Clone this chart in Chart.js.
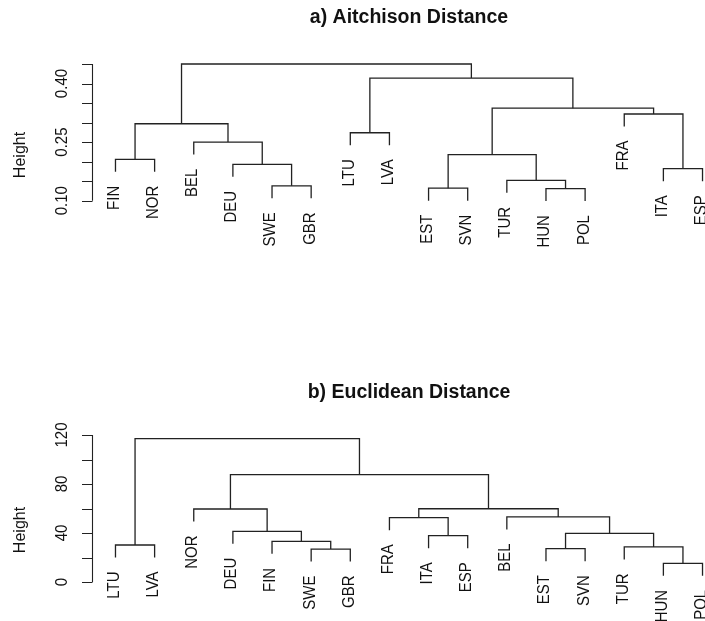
<!DOCTYPE html>
<html lang="en">
<head>
<meta charset="UTF-8">
<title>Cluster dendrograms</title>
<script src="https://cdn.jsdelivr.net/npm/chart.js"></script>
<style>
  html, body { margin: 0; padding: 0; background: #fff; overflow: hidden; }
  #wrap { position: relative; width: 705px; height: 621px; overflow: hidden; }
  canvas { position: absolute; left: 0; }
  #aitchisonChart { top: 0; }
  #euclideanChart { top: 310px; }
</style>
</head>
<body>
<div id="wrap">
  <canvas id="aitchisonChart" width="740" height="310"></canvas>
  <canvas id="euclideanChart" width="740" height="311"></canvas>
</div>
<script>
// a) Aitchison distance tree
// merge steps: a name is a leaf, a number points at an earlier step (1-based)
const aitchisonLeaves = ['FIN', 'NOR', 'BEL', 'DEU', 'SWE', 'GBR', 'LTU', 'LVA', 'EST', 'SVN', 'TUR', 'HUN', 'POL', 'FRA', 'ITA', 'ESP'];
const aitchisonMerges = [
  ['HUN', 'POL'], ['EST', 'SVN'], ['SWE', 'GBR'], ['TUR', 1], ['ITA', 'ESP'],
  ['DEU', 3], ['FIN', 'NOR'], [2, 4], ['BEL', 6], ['LTU', 'LVA'],
  [7, 9], ['FRA', 5], [8, 12], [10, 13], [11, 14]
];
const aitchisonHeights = [0.131, 0.132, 0.138, 0.152, 0.182, 0.193, 0.206, 0.218, 0.250, 0.274, 0.297, 0.322, 0.337, 0.414, 0.450];
const aitchisonTicks = [0.10, 0.15, 0.20, 0.25, 0.30, 0.35, 0.40, 0.45];
const aitchisonTickLabels = ['0.10', '', '', '0.25', '', '', '0.40', ''];

// b) Euclidean distance tree
const euclideanLeaves = ['LTU', 'LVA', 'NOR', 'DEU', 'FIN', 'SWE', 'GBR', 'FRA', 'ITA', 'ESP', 'BEL', 'EST', 'SVN', 'TUR', 'HUN', 'POL'];
const euclideanMerges = [
  ['HUN', 'POL'], ['SWE', 'GBR'], ['EST', 'SVN'], ['TUR', 1], ['LTU', 'LVA'],
  ['FIN', 2], ['ITA', 'ESP'], [3, 4], ['DEU', 6], ['FRA', 7],
  ['BEL', 8], ['NOR', 9], [10, 11], [12, 13], [5, 14]
];
const euclideanHeights = [15.2, 26.9, 27.2, 28.6, 30.2, 33.2, 37.8, 39.7, 41.4, 52.5, 53.1, 59.6, 59.8, 87.6, 117.0];
const euclideanTicks = [0, 20, 40, 60, 80, 100, 120];
const euclideanTickLabels = ['0', '', '40', '', '80', '', '120'];

const HANG = 0.1;
const ink = '#222';
const FONT = '"Liberation Sans", Arial, Helvetica, sans-serif';

// turn the merge list into elbow segments; leaves hang below their merge
function buildTree(leaves, merges, heights) {
  const hang = HANG * (Math.max(...heights) - Math.min(...heights));
  const nodes = [];
  const leafEnds = {};
  const segments = [];
  function child(ref, h) {
    if (typeof ref === 'string') {
      leafEnds[ref] = h - hang;
      return { x: leaves.indexOf(ref) + 1, y: h - hang };
    }
    return nodes[ref - 1];
  }
  merges.forEach((pair, i) => {
    const h = heights[i];
    const l = child(pair[0], h);
    const r = child(pair[1], h);
    segments.push([{ x: l.x, y: l.y }, { x: l.x, y: h }, { x: r.x, y: h }, { x: r.x, y: r.y }]);
    nodes.push({ x: (l.x + r.x) / 2, y: h });
  });
  return { segments, leafEnds };
}

// draw a string turned 90deg, reading bottom to top
function upText(ctx, text, x, y) {
  ctx.save();
  ctx.translate(x, y);
  ctx.rotate(-Math.PI / 2);
  ctx.scale(1, 1.06);
  ctx.fillText(text, 0, 0);
  ctx.restore();
}

// y axis (R style) plus the rotated leaf labels
const dendroText = {
  id: 'dendroText',
  afterDatasetsDraw(chart, args, opts) {
    const ctx = chart.ctx;
    const xs = chart.scales.x, ys = chart.scales.y;
    const axisX = chart.chartArea.left;
    ctx.save();
    ctx.strokeStyle = ink;
    ctx.fillStyle = '#111';
    ctx.lineWidth = 1.1;

    const yTop = ys.getPixelForValue(opts.ticks[opts.ticks.length - 1]);
    const yBot = ys.getPixelForValue(opts.ticks[0]);
    ctx.beginPath();
    ctx.moveTo(axisX + 0.5, yTop);
    ctx.lineTo(axisX + 0.5, yBot);
    opts.ticks.forEach(v => {
      const py = Math.round(ys.getPixelForValue(v)) + 0.5;
      ctx.moveTo(axisX + 0.5, py);
      ctx.lineTo(axisX - 10, py);
    });
    ctx.stroke();

    ctx.font = '15px ' + FONT;
    ctx.textAlign = 'center';
    ctx.textBaseline = 'middle';
    opts.ticks.forEach((v, i) => {
      if (opts.tickLabels[i]) upText(ctx, opts.tickLabels[i], 63, ys.getPixelForValue(v));
    });

    ctx.font = '16px ' + FONT;
    upText(ctx, 'Height', 20, opts.heightLabelY);

    ctx.font = '15px ' + FONT;
    ctx.textAlign = 'right';
    opts.leaves.forEach((name, i) => {
      const px = xs.getPixelForValue(i + 1);
      const py = ys.getPixelForValue(opts.leafEnds[name]) + 14;
      upText(ctx, name, px - 1, py);
    });
    ctx.restore();
  }
};

function drawTree(cfg) {
  const tree = buildTree(cfg.leaves, cfg.merges, cfg.heights);
  return new Chart(document.getElementById(cfg.id), {
    type: 'scatter',
    data: {
      datasets: tree.segments.map(seg => ({
        data: seg,
        showLine: true,
        borderColor: ink,
        borderWidth: 1.3,
        pointRadius: 0,
        pointHoverRadius: 0,
        tension: 0,
        clip: false
      }))
    },
    options: {
      responsive: false,
      animation: false,
      events: [],
      layout: { padding: { left: 92, right: 14, top: 0, bottom: cfg.bottomPad } },
      scales: {
        x: { type: 'linear', display: false, min: 0.4, max: cfg.leaves.length + 0.6 },
        y: { type: 'linear', display: false, min: cfg.ticks[0], max: cfg.ticks[cfg.ticks.length - 1] }
      },
      plugins: {
        legend: { display: false },
        tooltip: { enabled: false },
        title: {
          display: true,
          text: cfg.title,
          fullSize: false,
          color: '#111',
          font: { family: FONT, size: 19.5, weight: 'bold', lineHeight: 1.2 },
          padding: cfg.titlePad
        },
        dendroText: {
          leaves: cfg.leaves,
          leafEnds: tree.leafEnds,
          ticks: cfg.ticks,
          tickLabels: cfg.tickLabels,
          heightLabelY: cfg.heightLabelY
        }
      }
    },
    plugins: [dendroText]
  });
}

drawTree({
  id: 'aitchisonChart',
  title: 'a) Aitchison Distance',
  leaves: aitchisonLeaves,
  merges: aitchisonMerges,
  heights: aitchisonHeights,
  ticks: aitchisonTicks,
  tickLabels: aitchisonTickLabels,
  titlePad: { top: 6.3, bottom: 34.3 },
  bottomPad: 109.3,
  heightLabelY: 155
});

drawTree({
  id: 'euclideanChart',
  title: 'b) Euclidean Distance',
  leaves: euclideanLeaves,
  merges: euclideanMerges,
  heights: euclideanHeights,
  ticks: euclideanTicks,
  tickLabels: euclideanTickLabels,
  titlePad: { top: 71.3, bottom: 30.3 },
  bottomPad: 39,
  heightLabelY: 220
});
</script>
</body>
</html>
